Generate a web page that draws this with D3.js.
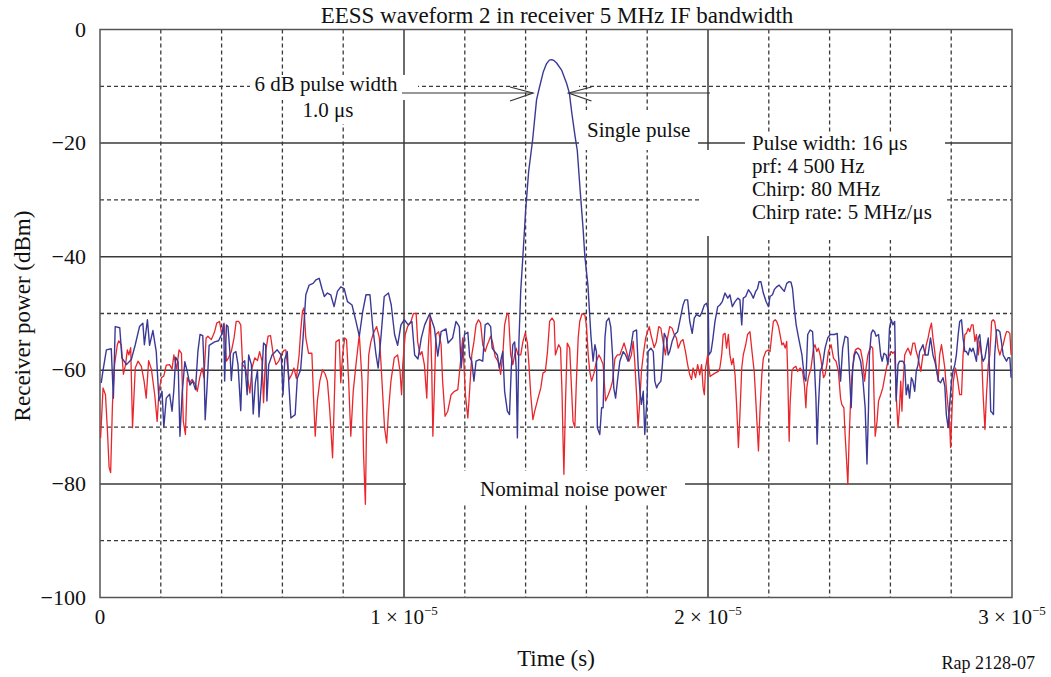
<!DOCTYPE html>
<html>
<head>
<meta charset="utf-8">
<script src="https://cdn.jsdelivr.net/npm/d3@7"></script>
<style>
  html, body { margin: 0; padding: 0; background: #fff; }
  svg { display: block; font-family: "Liberation Serif", "Times New Roman", serif; }
</style>
</head>
<body>
<svg id="chart" width="1051" height="677"></svg>
<script>
// ---------- data (time in microseconds, power in dBm) ----------
const chartTitle = "EESS waveform 2 in receiver 5 MHz IF bandwidth";
const yTickValues = [0, -20, -40, -60, -80, -100];
const yGridValues = [-10, -20, -30, -40, -50, -60, -70, -80, -90];
const xTickValues = [0, 1e-5, 2e-5, 3e-5];
const xTickMantissa = ["0", "1", "2", "3"];
const xGridValues = [2e-6, 4e-6, 6e-6, 8e-6, 1e-5, 1.2e-5, 1.4e-5, 1.6e-5, 1.8e-5, 2e-5, 2.2e-5, 2.4e-5, 2.6e-5, 2.8e-5];
const infoLines = ["Pulse width: 16 \u03bcs", "prf: 4 500 Hz", "Chirp: 80 MHz", "Chirp rate: 5 MHz/\u03bcs"];

// blue trace: single pulse received in 5 MHz IF bandwidth
const blueTrace = [
[0.04,-62.2],[0.1,-60],[0.21,-56.4],[0.37,-56.2],[0.44,-64.9],[0.5,-52.3],[0.65,-52.5],[0.72,-57.8],[0.87,-59],[1.03,-58.1],
[1.16,-55.5],[1.3,-52.3],[1.41,-51.7],[1.46,-55.5],[1.56,-51.1],[1.63,-55.6],[1.74,-53],[1.85,-56.7],[1.94,-65.4],[2.04,-63.7],
[2.1,-70],[2.18,-64.9],[2.29,-64.2],[2.37,-67.2],[2.43,-63.4],[2.49,-57.7],[2.57,-58.5],[2.63,-71.6],[2.7,-64.3],[2.79,-58.5],
[2.87,-60.2],[2.96,-62.6],[3.05,-61.9],[3.14,-63.4],[3.22,-56.7],[3.29,-53.7],[3.38,-53.9],[3.42,-59],[3.46,-68.7],[3.52,-63.1],
[3.59,-55.6],[3.77,-55],[3.9,-54.8],[4.01,-53.6],[4.07,-51.9],[4.1,-61.9],[4.16,-52],[4.21,-52.3],[4.28,-57.3],[4.32,-61.8],
[4.39,-57],[4.47,-56.7],[4.54,-59],[4.63,-67.1],[4.68,-58.7],[4.76,-58.3],[4.84,-64.3],[4.89,-57.3],[4.98,-59],[5.04,-67.7],
[5.11,-62.2],[5.18,-60],[5.23,-68.2],[5.31,-62.2],[5.38,-55.2],[5.45,-55.6],[5.49,-65.4],[5.55,-59],[5.66,-57.3],[5.83,-56.4],
[5.96,-57.3],[6.02,-64.3],[6.08,-58],[6.16,-56.7],[6.22,-63.1],[6.28,-68.4],[6.42,-67.8],[6.49,-61.4],[6.6,-59.9],[6.68,-54.3],
[6.77,-46.7],[6.88,-45],[7.01,-44.7],[7.1,-44.1],[7.21,-43.8],[7.3,-45.6],[7.38,-47],[7.48,-46.4],[7.59,-46.7],[7.7,-48.8],
[7.81,-46.1],[7.92,-45.3],[8.03,-45.6],[8.14,-47.9],[8.29,-48.5],[8.42,-51.4],[8.53,-54],[8.64,-49.7],[8.75,-46.7],[8.88,-46.7],
[8.97,-52.3],[9.08,-57.3],[9.15,-59.6],[9.24,-54.3],[9.35,-47],[9.49,-46.4],[9.58,-48.5],[9.69,-53.7],[9.79,-55.6],[9.9,-52],
[10.01,-51.1],[10.14,-52],[10.26,-51.4],[10.35,-57.3],[10.46,-58],[10.57,-54.3],[10.68,-52],[10.84,-50.1],[11.0,-52.6],[11.11,-57.5],
[11.22,-53.2],[11.38,-52.7],[11.45,-55.2],[11.6,-54.3],[11.71,-51.4],[11.82,-52.3],[11.88,-59.6],[11.99,-53.7],[12.1,-53.3],[12.16,-57.6],
[12.23,-58.4],[12.3,-61.9],[12.37,-58.4],[12.48,-58.1],[12.59,-58.4],[12.67,-52],[12.76,-51.7],[12.85,-52.3],[12.9,-56.1],[12.98,-56.7],
[13.07,-57.3],[13.14,-59.6],[13.2,-57.8],[13.25,-56.7],[13.31,-63.7],[13.4,-67.2],[13.47,-67.8],[13.53,-59.6],[13.58,-55.5],[13.64,-55],
[13.69,-59.6],[13.73,-71.9],[13.78,-55],[13.84,-46],[13.91,-40],[14.0,-32],[14.1,-25],[14.23,-19.5],[14.36,-12.4],[14.45,-10.3],
[14.58,-7.5],[14.69,-6],[14.78,-5.4],[14.86,-5.3],[14.94,-5.5],[15.02,-5.9],[15.19,-7.2],[15.35,-9.5],[15.44,-11.2],[15.52,-14.7],
[15.63,-18.9],[15.7,-21.3],[15.79,-28],[15.89,-35],[15.95,-40],[16.05,-45],[16.15,-54],[16.22,-58.4],[16.28,-55.5],[16.33,-56.7],
[16.36,-70.1],[16.44,-71.3],[16.5,-66.6],[16.55,-66.6],[16.61,-54.3],[16.66,-51.4],[16.74,-50.8],[16.8,-52.3],[16.86,-57.3],[16.9,-63.1],
[16.96,-64.9],[17.02,-61.9],[17.1,-58.4],[17.21,-56.7],[17.29,-57.3],[17.37,-58.4],[17.46,-56],[17.54,-53.2],[17.65,-52.9],[17.7,-59],
[17.76,-63.7],[17.81,-66],[17.87,-63.7],[17.92,-71.3],[18.0,-64.3],[18.03,-56.7],[18.12,-56.1],[18.2,-56.7],[18.25,-61.9],[18.31,-63.1],
[18.36,-62.5],[18.45,-61.9],[18.5,-59],[18.56,-53.5],[18.63,-54.3],[18.69,-57.3],[18.74,-56.7],[18.82,-54.9],[18.91,-53.7],[19.0,-53.2],
[19.07,-51.4],[19.18,-48.5],[19.24,-47.6],[19.33,-47.6],[19.4,-51.4],[19.48,-53.5],[19.55,-50.8],[19.62,-50.2],[19.73,-50.5],[19.79,-49.9],
[19.88,-48.5],[19.95,-48.2],[20.01,-49.4],[20.03,-57.3],[20.1,-56.7],[20.15,-54.9],[20.23,-51.4],[20.32,-48.8],[20.39,-48.5],[20.47,-47.9],
[20.56,-46.4],[20.65,-47.3],[20.72,-46.7],[20.8,-48.8],[20.89,-47.9],[20.98,-47.3],[21.05,-47.6],[21.11,-52],[21.16,-47.3],[21.24,-47],
[21.33,-45.8],[21.41,-46.4],[21.49,-47.3],[21.57,-46.1],[21.63,-45.6],[21.68,-44.4],[21.74,-44.4],[21.82,-46.4],[21.91,-47.9],[21.99,-48.8],
[22.04,-47],[22.12,-46.7],[22.18,-45.8],[22.26,-45.3],[22.34,-45],[22.43,-45.6],[22.51,-46.1],[22.59,-44.7],[22.67,-44.4],[22.73,-44.5],
[22.78,-45.6],[22.84,-49.1],[22.9,-52],[22.98,-54.3],[23.09,-57.3],[23.17,-61.3],[23.22,-61.9],[23.28,-53.7],[23.36,-52.9],[23.44,-53.2],
[23.5,-59],[23.55,-64.9],[23.59,-73],[23.63,-66.6],[23.69,-60.2],[23.77,-59],[23.85,-56.1],[23.94,-54.3],[24.02,-53.7],[24.1,-53.7],
[24.16,-53.7],[24.25,-53.5],[24.29,-57.3],[24.36,-61.9],[24.43,-56.1],[24.51,-54],[24.6,-54.3],[24.65,-60.2],[24.71,-66.6],[24.76,-59.6],
[24.82,-57.3],[24.87,-56.7],[24.95,-57.3],[25.02,-58.4],[25.09,-61.3],[25.17,-66.6],[25.23,-76.5],[25.28,-66.6],[25.31,-57.3],[25.37,-53.5],
[25.42,-52.9],[25.48,-53.2],[25.53,-54],[25.61,-53.7],[25.68,-57.3],[25.73,-58.4],[25.79,-57],[25.86,-57.3],[25.92,-59],[25.97,-52.6],
[26.03,-51.1],[26.08,-52],[26.14,-51.4],[26.19,-65.4],[26.25,-59],[26.3,-58.4],[26.36,-58.4],[26.41,-58.4],[26.47,-59],[26.52,-64.3],
[26.58,-62.5],[26.63,-64.9],[26.69,-61.3],[26.74,-61.9],[26.8,-63.7],[26.85,-60.2],[26.91,-59],[26.96,-56.7],[27.02,-56.1],[27.07,-55.5],
[27.15,-57.3],[27.24,-57.3],[27.32,-54.3],[27.4,-57.3],[27.46,-58.4],[27.51,-59.6],[27.59,-61.9],[27.65,-62.2],[27.73,-61.3],[27.79,-62.8],
[27.84,-67.8],[27.9,-70.1],[27.95,-66],[28.01,-61.9],[28.06,-60.2],[28.12,-59],[28.17,-57.3],[28.23,-53.7],[28.28,-51.4],[28.34,-51.1],
[28.39,-54.3],[28.45,-56.7],[28.5,-56.7],[28.56,-57.3],[28.61,-56.1],[28.67,-56.7],[28.72,-56.1],[28.78,-57.3],[28.83,-58.4],[28.89,-54.3],
[28.94,-53.7],[29.0,-57.3],[29.05,-58.4],[29.11,-57.8],[29.16,-56.1],[29.22,-54.3],[29.27,-61.3],[29.3,-67.2],[29.35,-67.5],[29.39,-67.8],
[29.43,-57.3],[29.49,-52.9],[29.54,-52.9],[29.6,-53.2],[29.65,-54.9],[29.71,-57.3],[29.76,-57.8],[29.82,-58.4],[29.87,-57.8],[29.93,-57.8],
[29.97,-61.3]
];

// red trace: nominal noise power
const redTrace = [
[0.02,-71.9],[0.1,-63.1],[0.18,-64.3],[0.24,-70.1],[0.3,-77.1],[0.35,-78],[0.41,-66],[0.48,-59],[0.57,-55.5],[0.62,-54.8],
[0.7,-55.5],[0.77,-60.7],[0.84,-59],[0.9,-56.4],[0.95,-57.3],[1.01,-56],[1.07,-70.1],[1.16,-59.6],[1.25,-58.4],[1.36,-59.3],
[1.45,-61.9],[1.52,-64.9],[1.6,-58.3],[1.69,-59.8],[1.8,-64.3],[1.88,-69],[1.94,-63.7],[2.02,-61.3],[2.1,-61],[2.18,-59.1],
[2.29,-59],[2.37,-59.8],[2.43,-57.3],[2.52,-59.8],[2.6,-56.4],[2.68,-57],[2.74,-69],[2.81,-71.3],[2.87,-61.3],[2.95,-62.2],
[3.03,-61.6],[3.14,-62.5],[3.2,-63.7],[3.28,-61.3],[3.36,-59.6],[3.42,-61.3],[3.49,-54.3],[3.55,-54],[3.66,-54.6],[3.77,-53.2],
[3.84,-51.7],[3.93,-51.4],[4.01,-53.7],[4.08,-51.7],[4.16,-58.4],[4.23,-57.8],[4.32,-56.7],[4.41,-54.3],[4.48,-51.4],[4.56,-51.4],
[4.63,-52],[4.69,-59],[4.78,-59.6],[4.87,-61.9],[4.93,-64],[5.0,-59.6],[5.09,-57.8],[5.18,-58.3],[5.25,-56.7],[5.33,-58.4],
[5.38,-65.7],[5.45,-56.7],[5.53,-54],[5.61,-53.9],[5.7,-57.3],[5.79,-59],[5.88,-58.4],[5.96,-57.3],[6.05,-56.5],[6.11,-56.4],
[6.22,-61.6],[6.31,-60.7],[6.38,-59.6],[6.46,-61.4],[6.55,-57.3],[6.6,-53.2],[6.66,-49.6],[6.71,-49],[6.77,-54.3],[6.86,-57],
[6.97,-57],[7.02,-64.3],[7.08,-71.6],[7.15,-65.4],[7.23,-61.9],[7.32,-59.9],[7.41,-60.7],[7.48,-61.9],[7.56,-67.2],[7.65,-75.4],
[7.7,-66.6],[7.76,-55],[7.87,-54.6],[7.92,-62.2],[7.98,-57.3],[8.05,-54.3],[8.11,-54.6],[8.18,-61.9],[8.25,-71.6],[8.33,-63.7],
[8.42,-59],[8.53,-53.7],[8.62,-61.9],[8.67,-74.8],[8.73,-83.6],[8.77,-69],[8.84,-57.3],[8.91,-55],[8.99,-53.5],[9.1,-52.3],
[9.19,-54.3],[9.24,-58.4],[9.3,-64.3],[9.36,-70.1],[9.43,-72.8],[9.49,-67.2],[9.57,-61.9],[9.68,-57.8],[9.79,-57.3],[9.87,-60.2],
[9.92,-64.3],[9.96,-59],[10.04,-53.7],[10.12,-52.3],[10.23,-51.4],[10.31,-50],[10.4,-50],[10.45,-55],[10.53,-57.3],[10.59,-56.7],
[10.67,-59],[10.75,-64.9],[10.8,-56],[10.86,-50.3],[10.91,-59],[10.95,-71.6],[11.0,-63.1],[11.05,-53.7],[11.14,-53.2],[11.22,-55.5],
[11.27,-61.9],[11.35,-68.1],[11.44,-67.2],[11.55,-64.3],[11.66,-63.7],[11.77,-63.4],[11.88,-57.3],[11.93,-54.3],[12.02,-64.3],[12.1,-68.4],
[12.15,-64.3],[12.23,-57.3],[12.3,-55],[12.37,-52],[12.45,-51.1],[12.52,-51.7],[12.59,-55.5],[12.67,-56.7],[12.74,-55.5],[12.78,-55],
[12.85,-54],[12.92,-55.2],[13.0,-57.6],[13.09,-58.4],[13.18,-60.7],[13.25,-57.3],[13.31,-52],[13.39,-50],[13.44,-50.3],[13.51,-57.3],
[13.58,-59],[13.64,-57.3],[13.69,-56.1],[13.75,-57.3],[13.84,-57.3],[13.91,-55],[13.99,-53.4],[14.06,-55.2],[14.11,-59],[14.17,-64.3],
[14.24,-68.7],[14.3,-67.2],[14.41,-64.9],[14.5,-63.1],[14.57,-60.5],[14.65,-60.2],[14.72,-56.7],[14.79,-51.4],[14.87,-50.8],[14.94,-51.4],
[14.98,-57.3],[15.05,-56.1],[15.09,-55.5],[15.15,-56.1],[15.2,-64.3],[15.23,-71.9],[15.26,-78.3],[15.31,-66],[15.37,-55.2],[15.45,-56.1],
[15.51,-63.1],[15.56,-69],[15.62,-70.1],[15.67,-62],[15.73,-54.3],[15.78,-51.4],[15.86,-50],[15.95,-50.3],[16.0,-52],[16.06,-57.3],
[16.11,-60.2],[16.17,-61.9],[16.25,-60.5],[16.33,-58.4],[16.41,-57.3],[16.47,-57.9],[16.55,-59],[16.63,-65.4],[16.72,-64.3],[16.8,-63.1],
[16.86,-61.9],[16.94,-57.9],[17.02,-57.3],[17.1,-57.3],[17.18,-56.1],[17.24,-55.2],[17.32,-56.7],[17.4,-58.4],[17.48,-57.3],[17.54,-54.9],
[17.59,-58.4],[17.65,-64.3],[17.7,-70.1],[17.76,-65],[17.81,-60.2],[17.87,-57.3],[17.95,-54.3],[18.01,-53.2],[18.07,-52.3],[18.12,-53.7],
[18.23,-56],[18.3,-55],[18.38,-52.3],[18.45,-52.6],[18.52,-54.9],[18.6,-57.3],[18.67,-54.3],[18.74,-52.3],[18.82,-52.6],[18.89,-53.7],
[18.96,-54.3],[19.02,-56.1],[19.11,-54.9],[19.18,-54.6],[19.26,-56.7],[19.33,-59],[19.4,-60.8],[19.46,-61.6],[19.51,-59.6],[19.59,-61.3],
[19.66,-59],[19.73,-60.8],[19.79,-59],[19.84,-63.1],[19.88,-64.3],[19.92,-59.6],[19.99,-57.3],[20.03,-59.6],[20.07,-61.1],[20.14,-60.8],
[20.23,-60.5],[20.34,-60.2],[20.39,-59.6],[20.45,-57.3],[20.5,-53.7],[20.56,-53.5],[20.61,-56.1],[20.67,-53.7],[20.72,-57.3],[20.78,-59],
[20.83,-57.9],[20.89,-60.8],[20.94,-66],[21.0,-73.6],[21.05,-67.8],[21.11,-59.6],[21.16,-57.3],[21.24,-55.5],[21.3,-53.7],[21.38,-53.2],
[21.46,-57.3],[21.52,-60.2],[21.58,-66],[21.66,-74.2],[21.71,-67.2],[21.77,-60.8],[21.82,-57.9],[21.9,-56.7],[21.99,-56.4],[22.04,-56.7],
[22.1,-53.7],[22.15,-51.4],[22.21,-51.1],[22.26,-51.4],[22.32,-52.3],[22.37,-53.7],[22.43,-55.5],[22.48,-55.2],[22.54,-56.1],[22.59,-54.9],
[22.62,-60.2],[22.67,-72.5],[22.7,-66],[22.76,-60.2],[22.81,-59.6],[22.89,-59.3],[22.95,-60.2],[23.03,-59.6],[23.11,-60.2],[23.17,-62.5],
[23.22,-66.6],[23.25,-63.1],[23.3,-61.3],[23.39,-59.6],[23.47,-56.1],[23.52,-55.5],[23.58,-56.7],[23.63,-56.1],[23.69,-57.3],[23.74,-59],
[23.8,-61.3],[23.85,-60.8],[23.91,-59],[23.96,-56.7],[24.05,-55.5],[24.13,-57.9],[24.21,-58.4],[24.29,-60.2],[24.36,-64.9],[24.4,-66],
[24.47,-66.6],[24.51,-71.3],[24.56,-76],[24.6,-80.1],[24.64,-72.5],[24.69,-65.4],[24.73,-61.3],[24.8,-57.3],[24.85,-56.4],[24.93,-56.1],
[25.02,-56.4],[25.09,-58.4],[25.15,-61.9],[25.2,-59.6],[25.26,-57.3],[25.31,-56.4],[25.37,-55.8],[25.42,-56.1],[25.46,-64.3],[25.5,-71.6],
[25.56,-69],[25.61,-65.4],[25.68,-64.3],[25.75,-63.1],[25.81,-61.3],[25.86,-59.9],[25.92,-58.4],[25.97,-57.3],[26.03,-56.7],[26.08,-57],
[26.14,-56.7],[26.19,-64.3],[26.25,-70.1],[26.3,-66.6],[26.34,-61.9],[26.38,-67.2],[26.41,-63.1],[26.47,-57.3],[26.52,-56.7],[26.58,-56.1],
[26.67,-57.3],[26.74,-55.2],[26.8,-55.2],[26.85,-56.7],[26.91,-57.8],[27.0,-60.2],[27.07,-57.3],[27.13,-57.3],[27.18,-55.5],[27.24,-54.3],
[27.29,-52.9],[27.35,-51.7],[27.4,-54.3],[27.46,-56.7],[27.51,-59.6],[27.57,-61.9],[27.62,-57.3],[27.68,-55.5],[27.73,-57.3],[27.79,-59.6],
[27.84,-63.1],[27.9,-66.6],[27.95,-69.5],[27.98,-73.6],[28.03,-66.6],[28.07,-61.9],[28.14,-59.6],[28.2,-61.3],[28.28,-64.3],[28.34,-64.3],
[28.39,-57.3],[28.45,-53.7],[28.5,-53.5],[28.56,-52.6],[28.61,-53.2],[28.67,-52],[28.72,-52],[28.78,-54.9],[28.83,-53.7],[28.89,-57.3],
[28.94,-54.9],[29.0,-57.3],[29.05,-64.3],[29.11,-70.4],[29.16,-64.3],[29.22,-59],[29.27,-57.3],[29.33,-51.4],[29.38,-51.1],[29.43,-51.4],
[29.49,-53.7],[29.54,-56.1],[29.6,-57.3],[29.65,-56.4],[29.71,-55.5],[29.76,-54.3],[29.82,-53.2],[29.87,-53.2],[29.93,-53.5],[29.97,-57.3]
];

// ---------- layout ----------
const svg = d3.select("#chart");
const X0 = 100, X1 = 1012, Y0 = 29.5, Y1 = 597.5;
const x = d3.scaleLinear().domain([0, 3e-5]).range([X0, X1]);
const y = d3.scaleLinear().domain([-100, 0]).range([Y1, Y0]);
const gridColor = "#3a3a3a";
const isMajorX = d => Math.abs(d - 1e-5) < 1e-9 || Math.abs(d - 2e-5) < 1e-9;

// gridlines
const grid = svg.append("g");
grid.selectAll("line.h").data(yGridValues).join("line")
  .attr("x1", X0).attr("x2", X1)
  .attr("y1", d => y(d)).attr("y2", d => y(d))
  .attr("stroke", gridColor)
  .attr("stroke-width", d => d % 20 === 0 ? 1.5 : 1.3)
  .attr("stroke-dasharray", d => d % 20 === 0 ? null : "4,3");
grid.selectAll("line.v").data(xGridValues).join("line")
  .attr("y1", Y0).attr("y2", Y1)
  .attr("x1", d => x(d)).attr("x2", d => x(d))
  .attr("stroke", gridColor)
  .attr("stroke-width", d => isMajorX(d) ? 1.5 : 1.3)
  .attr("stroke-dasharray", d => isMajorX(d) ? null : "4,3");

// white masks behind annotations
const masks = [
  [250, 75, 168, 25],   // 6 dB pulse width
  [294, 100, 68, 24],   // 1.0 us
  [528, 84, 51, 7],
  [579, 110, 119, 40],  // Single pulse
  [745, 133, 200, 107], // info block
  [700, 150, 245, 86],
  [406, 471, 279, 33]   // Nominal noise power
];
svg.append("g").selectAll("rect").data(masks).join("rect")
  .attr("x", d => d[0]).attr("y", d => d[1]).attr("width", d => d[2]).attr("height", d => d[3])
  .attr("fill", "#fff");

// frame
svg.append("rect").attr("x", X0).attr("y", Y0).attr("width", X1 - X0).attr("height", Y1 - Y0)
  .attr("fill", "none").attr("stroke", "#555").attr("stroke-width", 1.5);

// traces
const line = d3.line().x(d => x(d[0] * 1e-6)).y(d => y(d[1]));
svg.append("path").datum(redTrace).attr("d", line)
  .attr("fill", "none").attr("stroke", "#e8262b").attr("stroke-width", 1.3).attr("stroke-linejoin", "round");
svg.append("path").datum(blueTrace).attr("d", line)
  .attr("fill", "none").attr("stroke", "#3a3a96").attr("stroke-width", 1.4).attr("stroke-linejoin", "round");

// axes tick labels
svg.append("g").selectAll("text").data(yTickValues).join("text")
  .attr("x", 86).attr("y", d => y(d) + 7)
  .attr("text-anchor", "end").attr("font-size", 22).attr("fill", "#111")
  .text(d => d === 0 ? "0" : "\u2212" + Math.abs(d));

const xt = svg.append("g").selectAll("text").data(xTickValues).join("text")
  .attr("x", d => x(d)).attr("y", 624)
  .attr("text-anchor", "middle").attr("font-size", 21).attr("fill", "#111");
xt.each(function(d, i) {
  const t = d3.select(this);
  if (i === 0) { t.text(xTickMantissa[i]); return; }
  t.append("tspan").text(xTickMantissa[i] + " \u00d7 10");
  t.append("tspan").attr("dy", -9).attr("font-size", 13).text("\u22125");
});

// titles
svg.append("text").attr("x", 557).attr("y", 23).attr("text-anchor", "middle")
  .attr("font-size", 23).attr("fill", "#111").text(chartTitle);
svg.append("text").attr("transform", "translate(30,316) rotate(-90)").attr("text-anchor", "middle")
  .attr("font-size", 23).attr("fill", "#111").text("Receiver power (dBm)");
svg.append("text").attr("x", 556).attr("y", 666).attr("text-anchor", "middle")
  .attr("font-size", 23).attr("fill", "#111").text("Time (s)");
svg.append("text").attr("x", 1035).attr("y", 669).attr("text-anchor", "end")
  .attr("font-size", 18).attr("fill", "#111").text("Rap 2128-07");

// annotations
const ann = svg.append("g").attr("font-size", 21).attr("fill", "#111");
ann.append("text").attr("x", 326).attr("y", 91).attr("text-anchor", "middle").text("6 dB pulse width");
ann.append("text").attr("x", 328).attr("y", 117).attr("text-anchor", "middle").text("1.0 \u03bcs");
ann.append("text").attr("x", 587).attr("y", 137).text("Single pulse");
ann.append("text").attr("x", 480).attr("y", 496).text("Nomimal noise power");
ann.selectAll("text.info").data(infoLines).join("text")
  .attr("x", 752).attr("y", (d, i) => 150 + i * 23).text(d => d);

// arrows marking the 6 dB width
const arr = svg.append("g").attr("stroke", "#333").attr("stroke-width", 1.2).attr("fill", "none");
const ay = 93, tipL = 533, tipR = 568.5;
arr.append("line").attr("x1", 402).attr("x2", tipL).attr("y1", ay).attr("y2", ay);
arr.append("polyline").attr("points", `${tipL - 23},${ay - 6} ${tipL},${ay} ${tipL - 23},${ay + 8}`);
arr.append("line").attr("x1", tipR).attr("x2", 710).attr("y1", ay).attr("y2", ay);
arr.append("polyline").attr("points", `${tipR + 23},${ay - 6} ${tipR},${ay} ${tipR + 23},${ay + 8}`);
</script>
</body>
</html>
